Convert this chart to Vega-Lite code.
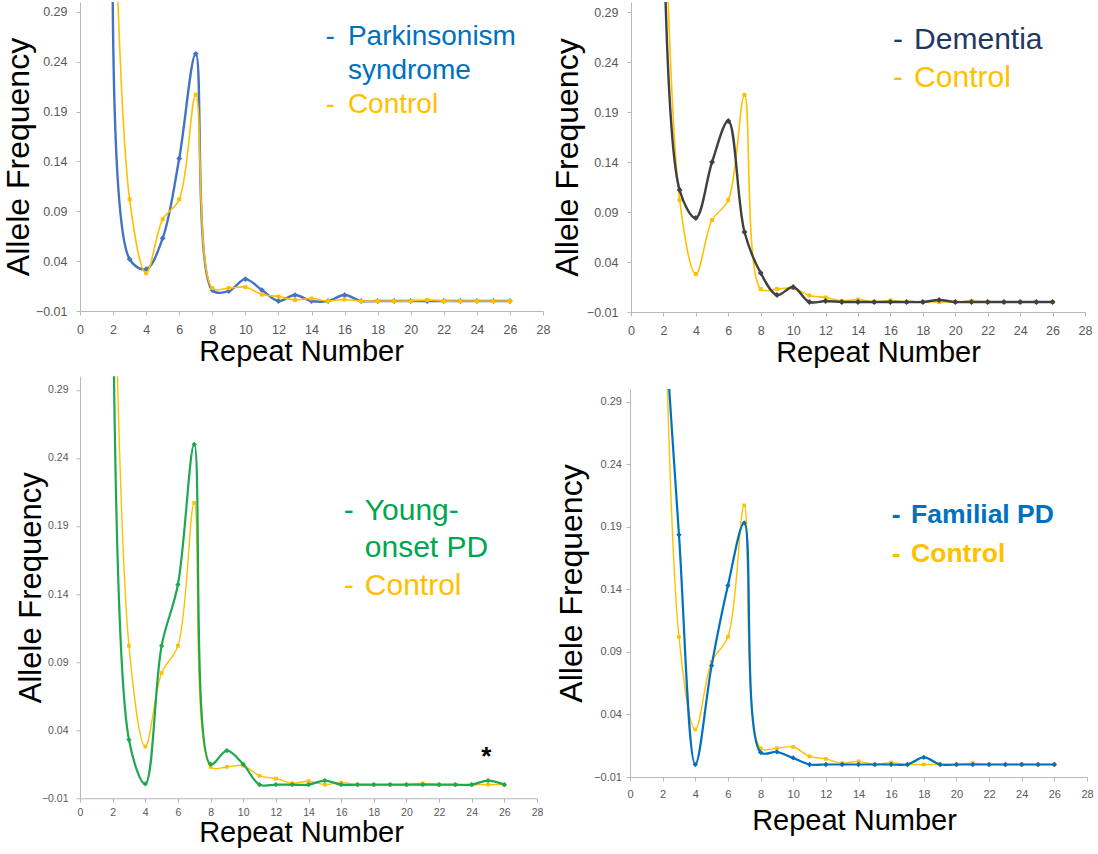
{
  "$schema": "https://vega.github.io/schema/vega-lite/v6.json",
  "background": "white",
  "padding": {"left": 2, "top": 2, "right": 0, "bottom": 0},
  "config": {
    "view": {"stroke": null},
    "axis": {
      "grid": false,
      "domainColor": "#B8B8B8",
      "tickColor": "#B8B8B8",
      "labelColor": "#595959",
      "labelFont": "Liberation Sans",
      "titleFont": "Liberation Sans",
      "titleFontWeight": "normal",
      "titleColor": "#000000",
      "labelFlush": false,
      "labelOverlap": false,
      "tickSize": 4
    },
    "text": {"font": "Liberation Sans"}
  },
  "datasets": {
    "freq": [
      {"series": "Parkinsonism", "repeat": 2, "freq": 0.44},
      {"series": "Parkinsonism", "repeat": 3, "freq": 0.042},
      {"series": "Parkinsonism", "repeat": 4, "freq": 0.032},
      {"series": "Parkinsonism", "repeat": 5, "freq": 0.063},
      {"series": "Parkinsonism", "repeat": 6, "freq": 0.143},
      {"series": "Parkinsonism", "repeat": 7, "freq": 0.248},
      {"series": "Parkinsonism", "repeat": 8, "freq": 0.011},
      {"series": "Parkinsonism", "repeat": 9, "freq": 0.010},
      {"series": "Parkinsonism", "repeat": 10, "freq": 0.022},
      {"series": "Parkinsonism", "repeat": 11, "freq": 0.011},
      {"series": "Parkinsonism", "repeat": 12, "freq": 0},
      {"series": "Parkinsonism", "repeat": 13, "freq": 0.006},
      {"series": "Parkinsonism", "repeat": 14, "freq": 0},
      {"series": "Parkinsonism", "repeat": 15, "freq": 0},
      {"series": "Parkinsonism", "repeat": 16, "freq": 0.006},
      {"series": "Parkinsonism", "repeat": 17, "freq": 0},
      {"series": "Parkinsonism", "repeat": 18, "freq": 0},
      {"series": "Parkinsonism", "repeat": 19, "freq": 0},
      {"series": "Parkinsonism", "repeat": 20, "freq": 0},
      {"series": "Parkinsonism", "repeat": 21, "freq": 0},
      {"series": "Parkinsonism", "repeat": 22, "freq": 0},
      {"series": "Parkinsonism", "repeat": 23, "freq": 0},
      {"series": "Parkinsonism", "repeat": 24, "freq": 0},
      {"series": "Parkinsonism", "repeat": 25, "freq": 0},
      {"series": "Parkinsonism", "repeat": 26, "freq": 0},

      {"series": "Control", "repeat": 2, "freq": 0.46},
      {"series": "Control", "repeat": 3, "freq": 0.102},
      {"series": "Control", "repeat": 4, "freq": 0.028},
      {"series": "Control", "repeat": 5, "freq": 0.082},
      {"series": "Control", "repeat": 6, "freq": 0.102},
      {"series": "Control", "repeat": 7, "freq": 0.207},
      {"series": "Control", "repeat": 8, "freq": 0.013},
      {"series": "Control", "repeat": 9, "freq": 0.013},
      {"series": "Control", "repeat": 10, "freq": 0.014},
      {"series": "Control", "repeat": 11, "freq": 0.0065},
      {"series": "Control", "repeat": 12, "freq": 0.0045},
      {"series": "Control", "repeat": 13, "freq": 0.001},
      {"series": "Control", "repeat": 14, "freq": 0.0025},
      {"series": "Control", "repeat": 15, "freq": 0},
      {"series": "Control", "repeat": 16, "freq": 0.0015},
      {"series": "Control", "repeat": 17, "freq": 0},
      {"series": "Control", "repeat": 18, "freq": 0},
      {"series": "Control", "repeat": 19, "freq": 0},
      {"series": "Control", "repeat": 20, "freq": 0},
      {"series": "Control", "repeat": 21, "freq": 0.001},
      {"series": "Control", "repeat": 22, "freq": 0},
      {"series": "Control", "repeat": 23, "freq": 0},
      {"series": "Control", "repeat": 24, "freq": 0},
      {"series": "Control", "repeat": 25, "freq": 0},
      {"series": "Control", "repeat": 26, "freq": 0},

      {"series": "Dementia", "repeat": 2, "freq": 0.40},
      {"series": "Dementia", "repeat": 3, "freq": 0.112},
      {"series": "Dementia", "repeat": 4, "freq": 0.084},
      {"series": "Dementia", "repeat": 5, "freq": 0.140},
      {"series": "Dementia", "repeat": 6, "freq": 0.181},
      {"series": "Dementia", "repeat": 7, "freq": 0.070},
      {"series": "Dementia", "repeat": 8, "freq": 0.029},
      {"series": "Dementia", "repeat": 9, "freq": 0.007},
      {"series": "Dementia", "repeat": 10, "freq": 0.015},
      {"series": "Dementia", "repeat": 11, "freq": 0},
      {"series": "Dementia", "repeat": 12, "freq": 0.001},
      {"series": "Dementia", "repeat": 13, "freq": 0},
      {"series": "Dementia", "repeat": 14, "freq": 0},
      {"series": "Dementia", "repeat": 15, "freq": 0},
      {"series": "Dementia", "repeat": 16, "freq": 0},
      {"series": "Dementia", "repeat": 17, "freq": 0},
      {"series": "Dementia", "repeat": 18, "freq": 0},
      {"series": "Dementia", "repeat": 19, "freq": 0.002},
      {"series": "Dementia", "repeat": 20, "freq": 0},
      {"series": "Dementia", "repeat": 21, "freq": 0},
      {"series": "Dementia", "repeat": 22, "freq": 0},
      {"series": "Dementia", "repeat": 23, "freq": 0},
      {"series": "Dementia", "repeat": 24, "freq": 0},
      {"series": "Dementia", "repeat": 25, "freq": 0},
      {"series": "Dementia", "repeat": 26, "freq": 0},

      {"series": "YoungOnset", "repeat": 2, "freq": 0.42},
      {"series": "YoungOnset", "repeat": 3, "freq": 0.033},
      {"series": "YoungOnset", "repeat": 4, "freq": 0.0005},
      {"series": "YoungOnset", "repeat": 5, "freq": 0.102},
      {"series": "YoungOnset", "repeat": 6, "freq": 0.147},
      {"series": "YoungOnset", "repeat": 7, "freq": 0.250},
      {"series": "YoungOnset", "repeat": 8, "freq": 0.015},
      {"series": "YoungOnset", "repeat": 9, "freq": 0.025},
      {"series": "YoungOnset", "repeat": 10, "freq": 0.015},
      {"series": "YoungOnset", "repeat": 11, "freq": 0},
      {"series": "YoungOnset", "repeat": 12, "freq": 0},
      {"series": "YoungOnset", "repeat": 13, "freq": 0},
      {"series": "YoungOnset", "repeat": 14, "freq": 0},
      {"series": "YoungOnset", "repeat": 15, "freq": 0.003},
      {"series": "YoungOnset", "repeat": 16, "freq": 0},
      {"series": "YoungOnset", "repeat": 17, "freq": 0},
      {"series": "YoungOnset", "repeat": 18, "freq": 0},
      {"series": "YoungOnset", "repeat": 19, "freq": 0},
      {"series": "YoungOnset", "repeat": 20, "freq": 0},
      {"series": "YoungOnset", "repeat": 21, "freq": 0},
      {"series": "YoungOnset", "repeat": 22, "freq": 0},
      {"series": "YoungOnset", "repeat": 23, "freq": 0},
      {"series": "YoungOnset", "repeat": 24, "freq": 0},
      {"series": "YoungOnset", "repeat": 25, "freq": 0.003},
      {"series": "YoungOnset", "repeat": 26, "freq": 0},

      {"series": "Familial", "repeat": 2, "freq": 0.38},
      {"series": "Familial", "repeat": 3, "freq": 0.1835},
      {"series": "Familial", "repeat": 4, "freq": 0},
      {"series": "Familial", "repeat": 5, "freq": 0.079},
      {"series": "Familial", "repeat": 6, "freq": 0.143},
      {"series": "Familial", "repeat": 7, "freq": 0.193},
      {"series": "Familial", "repeat": 8, "freq": 0.0097},
      {"series": "Familial", "repeat": 9, "freq": 0.010},
      {"series": "Familial", "repeat": 10, "freq": 0.0052},
      {"series": "Familial", "repeat": 11, "freq": 0},
      {"series": "Familial", "repeat": 12, "freq": 0},
      {"series": "Familial", "repeat": 13, "freq": 0},
      {"series": "Familial", "repeat": 14, "freq": 0},
      {"series": "Familial", "repeat": 15, "freq": 0},
      {"series": "Familial", "repeat": 16, "freq": 0},
      {"series": "Familial", "repeat": 17, "freq": 0},
      {"series": "Familial", "repeat": 18, "freq": 0.0057},
      {"series": "Familial", "repeat": 19, "freq": 0},
      {"series": "Familial", "repeat": 20, "freq": 0},
      {"series": "Familial", "repeat": 21, "freq": 0},
      {"series": "Familial", "repeat": 22, "freq": 0},
      {"series": "Familial", "repeat": 23, "freq": 0},
      {"series": "Familial", "repeat": 24, "freq": 0},
      {"series": "Familial", "repeat": 25, "freq": 0},
      {"series": "Familial", "repeat": 26, "freq": 0}
    ]
  },
  "spacing": 8,
  "vconcat": [
    {
      "spacing": 1,
      "hconcat": [
        {
          "width": 463,
          "height": 309,
          "layer": [
            {
              "data": {"name": "freq"},
              "encoding": {
                "x": {"field": "repeat", "type": "quantitative", "scale": {"domain": [0, 28], "nice": false}, "axis": {"title": "Repeat Number", "values": [0,2,4,6,8,10,12,14,16,18,20,22,24,26,28], "format": "d", "labelFontSize": 12.5, "labelPadding": 8, "titleFontSize": 29, "titlePadding": 2, "titleX": 221}},
                "y": {"field": "freq", "type": "quantitative", "scale": {"domain": [-0.01, 0.30], "nice": false, "zero": false}, "axis": {"title": "Allele Frequency", "values": [-0.01, 0.04, 0.09, 0.14, 0.19, 0.24, 0.29], "format": ".2f", "labelFontSize": 12.5, "labelPadding": 9, "titleFontSize": 32, "titlePadding": 0}}
              },
              "layer": [
                {"transform": [{"filter": "datum.series == 'Parkinsonism'"}], "mark": {"type": "line", "interpolate": "catmull-rom", "clip": true, "color": "#4472C4", "strokeWidth": 2.4}},
                {"transform": [{"filter": "datum.series == 'Parkinsonism'"}], "mark": {"type": "point", "shape": "diamond", "filled": true, "opacity": 1, "clip": true, "color": "#4472C4", "size": 34}},
                {"transform": [{"filter": "datum.series == 'Control'"}], "mark": {"type": "line", "interpolate": "catmull-rom", "clip": true, "color": "#FFC000", "strokeWidth": 1.6}},
                {"transform": [{"filter": "datum.series == 'Control'"}], "mark": {"type": "point", "shape": "square", "filled": true, "opacity": 1, "clip": true, "color": "#FFC000", "size": 16}}
              ]
            },
            {
              "data": {"values": [{}]},
              "mark": {"type": "text", "align": "left", "baseline": "middle", "fontSize": 28, "color": "#0070C0"},
              "encoding": {
                "x": {"datum": 14.84, "type": "quantitative", "scale": {"domain": [0, 28], "nice": false}, "axis": {"title": "Repeat Number", "values": [0,2,4,6,8,10,12,14,16,18,20,22,24,26,28], "format": "d", "labelFontSize": 12.5, "labelPadding": 8, "titleFontSize": 29, "titlePadding": 2, "titleX": 221}},
                "y": {"datum": 0.265, "type": "quantitative", "scale": {"domain": [-0.01, 0.30], "nice": false, "zero": false}, "axis": {"title": "Allele Frequency", "values": [-0.01, 0.04, 0.09, 0.14, 0.19, 0.24, 0.29], "format": ".2f", "labelFontSize": 12.5, "labelPadding": 9, "titleFontSize": 32, "titlePadding": 0}},
                "text": {"value": "-"}
              }
            },
            {
              "data": {"values": [{}]},
              "mark": {"type": "text", "align": "left", "baseline": "middle", "fontSize": 28, "color": "#0070C0"},
              "encoding": {
                "x": {"datum": 16.2, "type": "quantitative", "scale": {"domain": [0, 28], "nice": false}, "axis": {"title": "Repeat Number", "values": [0,2,4,6,8,10,12,14,16,18,20,22,24,26,28], "format": "d", "labelFontSize": 12.5, "labelPadding": 8, "titleFontSize": 29, "titlePadding": 2, "titleX": 221}},
                "y": {"datum": 0.265, "type": "quantitative", "scale": {"domain": [-0.01, 0.30], "nice": false, "zero": false}, "axis": {"title": "Allele Frequency", "values": [-0.01, 0.04, 0.09, 0.14, 0.19, 0.24, 0.29], "format": ".2f", "labelFontSize": 12.5, "labelPadding": 9, "titleFontSize": 32, "titlePadding": 0}},
                "text": {"value": "Parkinsonism"}
              }
            },
            {
              "data": {"values": [{}]},
              "mark": {"type": "text", "align": "left", "baseline": "middle", "fontSize": 28, "color": "#0070C0"},
              "encoding": {
                "x": {"datum": 16.2, "type": "quantitative", "scale": {"domain": [0, 28], "nice": false}, "axis": {"title": "Repeat Number", "values": [0,2,4,6,8,10,12,14,16,18,20,22,24,26,28], "format": "d", "labelFontSize": 12.5, "labelPadding": 8, "titleFontSize": 29, "titlePadding": 2, "titleX": 221}},
                "y": {"datum": 0.231, "type": "quantitative", "scale": {"domain": [-0.01, 0.30], "nice": false, "zero": false}, "axis": {"title": "Allele Frequency", "values": [-0.01, 0.04, 0.09, 0.14, 0.19, 0.24, 0.29], "format": ".2f", "labelFontSize": 12.5, "labelPadding": 9, "titleFontSize": 32, "titlePadding": 0}},
                "text": {"value": "syndrome"}
              }
            },
            {
              "data": {"values": [{}]},
              "mark": {"type": "text", "align": "left", "baseline": "middle", "fontSize": 28, "color": "#FFC000"},
              "encoding": {
                "x": {"datum": 14.84, "type": "quantitative", "scale": {"domain": [0, 28], "nice": false}, "axis": {"title": "Repeat Number", "values": [0,2,4,6,8,10,12,14,16,18,20,22,24,26,28], "format": "d", "labelFontSize": 12.5, "labelPadding": 8, "titleFontSize": 29, "titlePadding": 2, "titleX": 221}},
                "y": {"datum": 0.197, "type": "quantitative", "scale": {"domain": [-0.01, 0.30], "nice": false, "zero": false}, "axis": {"title": "Allele Frequency", "values": [-0.01, 0.04, 0.09, 0.14, 0.19, 0.24, 0.29], "format": ".2f", "labelFontSize": 12.5, "labelPadding": 9, "titleFontSize": 32, "titlePadding": 0}},
                "text": {"value": "-"}
              }
            },
            {
              "data": {"values": [{}]},
              "mark": {"type": "text", "align": "left", "baseline": "middle", "fontSize": 28, "color": "#FFC000"},
              "encoding": {
                "x": {"datum": 16.2, "type": "quantitative", "scale": {"domain": [0, 28], "nice": false}, "axis": {"title": "Repeat Number", "values": [0,2,4,6,8,10,12,14,16,18,20,22,24,26,28], "format": "d", "labelFontSize": 12.5, "labelPadding": 8, "titleFontSize": 29, "titlePadding": 2, "titleX": 221}},
                "y": {"datum": 0.197, "type": "quantitative", "scale": {"domain": [-0.01, 0.30], "nice": false, "zero": false}, "axis": {"title": "Allele Frequency", "values": [-0.01, 0.04, 0.09, 0.14, 0.19, 0.24, 0.29], "format": ".2f", "labelFontSize": 12.5, "labelPadding": 9, "titleFontSize": 32, "titlePadding": 0}},
                "text": {"value": "Control"}
              }
            }
          ]
        },
        {
          "width": 454,
          "height": 310,
          "layer": [
            {
              "data": {"name": "freq"},
              "encoding": {
                "x": {"field": "repeat", "type": "quantitative", "scale": {"domain": [0, 28], "nice": false}, "axis": {"title": "Repeat Number", "values": [0,2,4,6,8,10,12,14,16,18,20,22,24,26,28], "format": "d", "labelFontSize": 12.5, "labelPadding": 8, "titleFontSize": 29, "titlePadding": 2, "titleX": 247}},
                "y": {"field": "freq", "type": "quantitative", "scale": {"domain": [-0.01, 0.30], "nice": false, "zero": false}, "axis": {"title": "Allele Frequency", "values": [-0.01, 0.04, 0.09, 0.14, 0.19, 0.24, 0.29], "format": ".2f", "labelFontSize": 12.5, "labelPadding": 9, "titleFontSize": 32, "titlePadding": 2}}
              },
              "layer": [
                {"transform": [{"filter": "datum.series == 'Control'"}], "mark": {"type": "line", "interpolate": "catmull-rom", "clip": true, "color": "#FFC000", "strokeWidth": 1.6}},
                {"transform": [{"filter": "datum.series == 'Control'"}], "mark": {"type": "point", "shape": "square", "filled": true, "opacity": 1, "clip": true, "color": "#FFC000", "size": 16}},
                {"transform": [{"filter": "datum.series == 'Dementia'"}], "mark": {"type": "line", "interpolate": "catmull-rom", "clip": true, "color": "#404040", "strokeWidth": 2.4}},
                {"transform": [{"filter": "datum.series == 'Dementia'"}], "mark": {"type": "point", "shape": "diamond", "filled": true, "opacity": 1, "clip": true, "color": "#404040", "size": 34}}
              ]
            },
            {
              "data": {"values": [{}]},
              "mark": {"type": "text", "align": "left", "baseline": "middle", "fontSize": 30, "color": "#1F3864"},
              "encoding": {
                "x": {"datum": 16.16, "type": "quantitative", "scale": {"domain": [0, 28], "nice": false}, "axis": {"title": "Repeat Number", "values": [0,2,4,6,8,10,12,14,16,18,20,22,24,26,28], "format": "d", "labelFontSize": 12.5, "labelPadding": 8, "titleFontSize": 29, "titlePadding": 2, "titleX": 247}},
                "y": {"datum": 0.262, "type": "quantitative", "scale": {"domain": [-0.01, 0.30], "nice": false, "zero": false}, "axis": {"title": "Allele Frequency", "values": [-0.01, 0.04, 0.09, 0.14, 0.19, 0.24, 0.29], "format": ".2f", "labelFontSize": 12.5, "labelPadding": 9, "titleFontSize": 32, "titlePadding": 2}},
                "text": {"value": "-"}
              }
            },
            {
              "data": {"values": [{}]},
              "mark": {"type": "text", "align": "left", "baseline": "middle", "fontSize": 30, "color": "#1F3864"},
              "encoding": {
                "x": {"datum": 17.46, "type": "quantitative", "scale": {"domain": [0, 28], "nice": false}, "axis": {"title": "Repeat Number", "values": [0,2,4,6,8,10,12,14,16,18,20,22,24,26,28], "format": "d", "labelFontSize": 12.5, "labelPadding": 8, "titleFontSize": 29, "titlePadding": 2, "titleX": 247}},
                "y": {"datum": 0.262, "type": "quantitative", "scale": {"domain": [-0.01, 0.30], "nice": false, "zero": false}, "axis": {"title": "Allele Frequency", "values": [-0.01, 0.04, 0.09, 0.14, 0.19, 0.24, 0.29], "format": ".2f", "labelFontSize": 12.5, "labelPadding": 9, "titleFontSize": 32, "titlePadding": 2}},
                "text": {"value": "Dementia"}
              }
            },
            {
              "data": {"values": [{}]},
              "mark": {"type": "text", "align": "left", "baseline": "middle", "fontSize": 30, "color": "#FFC000"},
              "encoding": {
                "x": {"datum": 16.16, "type": "quantitative", "scale": {"domain": [0, 28], "nice": false}, "axis": {"title": "Repeat Number", "values": [0,2,4,6,8,10,12,14,16,18,20,22,24,26,28], "format": "d", "labelFontSize": 12.5, "labelPadding": 8, "titleFontSize": 29, "titlePadding": 2, "titleX": 247}},
                "y": {"datum": 0.2245, "type": "quantitative", "scale": {"domain": [-0.01, 0.30], "nice": false, "zero": false}, "axis": {"title": "Allele Frequency", "values": [-0.01, 0.04, 0.09, 0.14, 0.19, 0.24, 0.29], "format": ".2f", "labelFontSize": 12.5, "labelPadding": 9, "titleFontSize": 32, "titlePadding": 2}},
                "text": {"value": "-"}
              }
            },
            {
              "data": {"values": [{}]},
              "mark": {"type": "text", "align": "left", "baseline": "middle", "fontSize": 30, "color": "#FFC000"},
              "encoding": {
                "x": {"datum": 17.46, "type": "quantitative", "scale": {"domain": [0, 28], "nice": false}, "axis": {"title": "Repeat Number", "values": [0,2,4,6,8,10,12,14,16,18,20,22,24,26,28], "format": "d", "labelFontSize": 12.5, "labelPadding": 8, "titleFontSize": 29, "titlePadding": 2, "titleX": 247}},
                "y": {"datum": 0.2245, "type": "quantitative", "scale": {"domain": [-0.01, 0.30], "nice": false, "zero": false}, "axis": {"title": "Allele Frequency", "values": [-0.01, 0.04, 0.09, 0.14, 0.19, 0.24, 0.29], "format": ".2f", "labelFontSize": 12.5, "labelPadding": 9, "titleFontSize": 32, "titlePadding": 2}},
                "text": {"value": "Control"}
              }
            }
          ]
        }
      ]
    },
    {
      "spacing": 12,
      "center": true,
      "hconcat": [
        {
          "width": 457,
          "height": 422,
          "layer": [
            {
              "data": {"name": "freq"},
              "encoding": {
                "x": {"field": "repeat", "type": "quantitative", "scale": {"domain": [0, 28], "nice": false}, "axis": {"title": "Repeat Number", "values": [0,2,4,6,8,10,12,14,16,18,20,22,24,26,28], "format": "d", "labelFontSize": 10.5, "labelPadding": 5, "titleFontSize": 29, "titlePadding": 1, "titleX": 221}},
                "y": {"field": "freq", "type": "quantitative", "scale": {"domain": [-0.01, 0.30], "nice": false, "zero": false}, "axis": {"title": "Allele Frequency", "values": [-0.01, 0.04, 0.09, 0.14, 0.19, 0.24, 0.29], "format": ".2f", "labelFontSize": 10.5, "labelPadding": 8, "titleFontSize": 31, "titlePadding": -6}}
              },
              "layer": [
                {"transform": [{"filter": "datum.series == 'Control'"}], "mark": {"type": "line", "interpolate": "catmull-rom", "clip": true, "color": "#FFC000", "strokeWidth": 1.4}},
                {"transform": [{"filter": "datum.series == 'Control'"}], "mark": {"type": "point", "shape": "square", "filled": true, "opacity": 1, "clip": true, "color": "#FFC000", "size": 14}},
                {"transform": [{"filter": "datum.series == 'YoungOnset'"}], "mark": {"type": "line", "interpolate": "catmull-rom", "clip": true, "color": "#1DA851", "strokeWidth": 2.2}},
                {"transform": [{"filter": "datum.series == 'YoungOnset'"}], "mark": {"type": "point", "shape": "diamond", "filled": true, "opacity": 1, "clip": true, "color": "#1DA851", "size": 28}}
              ]
            },
            {
              "data": {"values": [{}]},
              "mark": {"type": "text", "align": "left", "baseline": "middle", "fontSize": 30, "color": "#00A650"},
              "encoding": {
                "x": {"datum": 16.16, "type": "quantitative", "scale": {"domain": [0, 28], "nice": false}, "axis": {"title": "Repeat Number", "values": [0,2,4,6,8,10,12,14,16,18,20,22,24,26,28], "format": "d", "labelFontSize": 10.5, "labelPadding": 5, "titleFontSize": 29, "titlePadding": 1, "titleX": 221}},
                "y": {"datum": 0.201, "type": "quantitative", "scale": {"domain": [-0.01, 0.30], "nice": false, "zero": false}, "axis": {"title": "Allele Frequency", "values": [-0.01, 0.04, 0.09, 0.14, 0.19, 0.24, 0.29], "format": ".2f", "labelFontSize": 10.5, "labelPadding": 8, "titleFontSize": 31, "titlePadding": -6}},
                "text": {"value": "-"}
              }
            },
            {
              "data": {"values": [{}]},
              "mark": {"type": "text", "align": "left", "baseline": "middle", "fontSize": 30, "color": "#00A650"},
              "encoding": {
                "x": {"datum": 17.45, "type": "quantitative", "scale": {"domain": [0, 28], "nice": false}, "axis": {"title": "Repeat Number", "values": [0,2,4,6,8,10,12,14,16,18,20,22,24,26,28], "format": "d", "labelFontSize": 10.5, "labelPadding": 5, "titleFontSize": 29, "titlePadding": 1, "titleX": 221}},
                "y": {"datum": 0.201, "type": "quantitative", "scale": {"domain": [-0.01, 0.30], "nice": false, "zero": false}, "axis": {"title": "Allele Frequency", "values": [-0.01, 0.04, 0.09, 0.14, 0.19, 0.24, 0.29], "format": ".2f", "labelFontSize": 10.5, "labelPadding": 8, "titleFontSize": 31, "titlePadding": -6}},
                "text": {"value": "Young-"}
              }
            },
            {
              "data": {"values": [{}]},
              "mark": {"type": "text", "align": "left", "baseline": "middle", "fontSize": 30, "color": "#00A650"},
              "encoding": {
                "x": {"datum": 17.45, "type": "quantitative", "scale": {"domain": [0, 28], "nice": false}, "axis": {"title": "Repeat Number", "values": [0,2,4,6,8,10,12,14,16,18,20,22,24,26,28], "format": "d", "labelFontSize": 10.5, "labelPadding": 5, "titleFontSize": 29, "titlePadding": 1, "titleX": 221}},
                "y": {"datum": 0.174, "type": "quantitative", "scale": {"domain": [-0.01, 0.30], "nice": false, "zero": false}, "axis": {"title": "Allele Frequency", "values": [-0.01, 0.04, 0.09, 0.14, 0.19, 0.24, 0.29], "format": ".2f", "labelFontSize": 10.5, "labelPadding": 8, "titleFontSize": 31, "titlePadding": -6}},
                "text": {"value": "onset PD"}
              }
            },
            {
              "data": {"values": [{}]},
              "mark": {"type": "text", "align": "left", "baseline": "middle", "fontSize": 30, "color": "#FFC000"},
              "encoding": {
                "x": {"datum": 16.16, "type": "quantitative", "scale": {"domain": [0, 28], "nice": false}, "axis": {"title": "Repeat Number", "values": [0,2,4,6,8,10,12,14,16,18,20,22,24,26,28], "format": "d", "labelFontSize": 10.5, "labelPadding": 5, "titleFontSize": 29, "titlePadding": 1, "titleX": 221}},
                "y": {"datum": 0.146, "type": "quantitative", "scale": {"domain": [-0.01, 0.30], "nice": false, "zero": false}, "axis": {"title": "Allele Frequency", "values": [-0.01, 0.04, 0.09, 0.14, 0.19, 0.24, 0.29], "format": ".2f", "labelFontSize": 10.5, "labelPadding": 8, "titleFontSize": 31, "titlePadding": -6}},
                "text": {"value": "-"}
              }
            },
            {
              "data": {"values": [{}]},
              "mark": {"type": "text", "align": "left", "baseline": "middle", "fontSize": 30, "color": "#FFC000"},
              "encoding": {
                "x": {"datum": 17.45, "type": "quantitative", "scale": {"domain": [0, 28], "nice": false}, "axis": {"title": "Repeat Number", "values": [0,2,4,6,8,10,12,14,16,18,20,22,24,26,28], "format": "d", "labelFontSize": 10.5, "labelPadding": 5, "titleFontSize": 29, "titlePadding": 1, "titleX": 221}},
                "y": {"datum": 0.146, "type": "quantitative", "scale": {"domain": [-0.01, 0.30], "nice": false, "zero": false}, "axis": {"title": "Allele Frequency", "values": [-0.01, 0.04, 0.09, 0.14, 0.19, 0.24, 0.29], "format": ".2f", "labelFontSize": 10.5, "labelPadding": 8, "titleFontSize": 31, "titlePadding": -6}},
                "text": {"value": "Control"}
              }
            },
            {
              "data": {"values": [{}]},
              "mark": {"type": "text", "align": "center", "baseline": "middle", "fontSize": 26, "fontWeight": "bold", "color": "#000000", "dy": 4},
              "encoding": {
                "x": {"datum": 24.9, "type": "quantitative", "scale": {"domain": [0, 28], "nice": false}, "axis": {"title": "Repeat Number", "values": [0,2,4,6,8,10,12,14,16,18,20,22,24,26,28], "format": "d", "labelFontSize": 10.5, "labelPadding": 5, "titleFontSize": 29, "titlePadding": 1, "titleX": 221}},
                "y": {"datum": 0.0233, "type": "quantitative", "scale": {"domain": [-0.01, 0.30], "nice": false, "zero": false}, "axis": {"title": "Allele Frequency", "values": [-0.01, 0.04, 0.09, 0.14, 0.19, 0.24, 0.29], "format": ".2f", "labelFontSize": 10.5, "labelPadding": 8, "titleFontSize": 31, "titlePadding": -6}},
                "text": {"value": "*"}
              }
            }
          ]
        },
        {
          "width": 457,
          "height": 388,
          "layer": [
            {
              "data": {"name": "freq"},
              "encoding": {
                "x": {"field": "repeat", "type": "quantitative", "scale": {"domain": [0, 28], "nice": false}, "axis": {"title": "Repeat Number", "values": [0,2,4,6,8,10,12,14,16,18,20,22,24,26,28], "format": "d", "labelFontSize": 11, "labelPadding": 7, "titleFontSize": 29, "titlePadding": 7, "titleX": 224}},
                "y": {"field": "freq", "type": "quantitative", "scale": {"domain": [-0.01, 0.30], "nice": false, "zero": false}, "axis": {"title": "Allele Frequency", "values": [-0.01, 0.04, 0.09, 0.14, 0.19, 0.24, 0.29], "format": ".2f", "labelFontSize": 11, "labelPadding": 4.5, "titleFontSize": 32, "titlePadding": 5}}
              },
              "layer": [
                {"transform": [{"filter": "datum.series == 'Control'"}], "mark": {"type": "line", "interpolate": "catmull-rom", "clip": true, "color": "#FFC000", "strokeWidth": 1.4}},
                {"transform": [{"filter": "datum.series == 'Control'"}], "mark": {"type": "point", "shape": "square", "filled": true, "opacity": 1, "clip": true, "color": "#FFC000", "size": 14}},
                {"transform": [{"filter": "datum.series == 'Familial'"}], "mark": {"type": "line", "interpolate": "catmull-rom", "clip": true, "color": "#0070C0", "strokeWidth": 2.2}},
                {"transform": [{"filter": "datum.series == 'Familial'"}], "mark": {"type": "point", "shape": "diamond", "filled": true, "opacity": 1, "clip": true, "color": "#0070C0", "size": 28}}
              ]
            },
            {
              "data": {"values": [{}]},
              "mark": {"type": "text", "align": "left", "baseline": "middle", "fontSize": 26.5, "fontWeight": "bold", "color": "#0070C0"},
              "encoding": {
                "x": {"datum": 16.04, "type": "quantitative", "scale": {"domain": [0, 28], "nice": false}, "axis": {"title": "Repeat Number", "values": [0,2,4,6,8,10,12,14,16,18,20,22,24,26,28], "format": "d", "labelFontSize": 11, "labelPadding": 7, "titleFontSize": 29, "titlePadding": 7, "titleX": 224}},
                "y": {"datum": 0.199, "type": "quantitative", "scale": {"domain": [-0.01, 0.30], "nice": false, "zero": false}, "axis": {"title": "Allele Frequency", "values": [-0.01, 0.04, 0.09, 0.14, 0.19, 0.24, 0.29], "format": ".2f", "labelFontSize": 11, "labelPadding": 4.5, "titleFontSize": 32, "titlePadding": 5}},
                "text": {"value": "-"}
              }
            },
            {
              "data": {"values": [{}]},
              "mark": {"type": "text", "align": "left", "baseline": "middle", "fontSize": 26.5, "fontWeight": "bold", "color": "#0070C0"},
              "encoding": {
                "x": {"datum": 17.22, "type": "quantitative", "scale": {"domain": [0, 28], "nice": false}, "axis": {"title": "Repeat Number", "values": [0,2,4,6,8,10,12,14,16,18,20,22,24,26,28], "format": "d", "labelFontSize": 11, "labelPadding": 7, "titleFontSize": 29, "titlePadding": 7, "titleX": 224}},
                "y": {"datum": 0.199, "type": "quantitative", "scale": {"domain": [-0.01, 0.30], "nice": false, "zero": false}, "axis": {"title": "Allele Frequency", "values": [-0.01, 0.04, 0.09, 0.14, 0.19, 0.24, 0.29], "format": ".2f", "labelFontSize": 11, "labelPadding": 4.5, "titleFontSize": 32, "titlePadding": 5}},
                "text": {"value": "Familial PD"}
              }
            },
            {
              "data": {"values": [{}]},
              "mark": {"type": "text", "align": "left", "baseline": "middle", "fontSize": 26.5, "fontWeight": "bold", "color": "#FFC000"},
              "encoding": {
                "x": {"datum": 16.04, "type": "quantitative", "scale": {"domain": [0, 28], "nice": false}, "axis": {"title": "Repeat Number", "values": [0,2,4,6,8,10,12,14,16,18,20,22,24,26,28], "format": "d", "labelFontSize": 11, "labelPadding": 7, "titleFontSize": 29, "titlePadding": 7, "titleX": 224}},
                "y": {"datum": 0.168, "type": "quantitative", "scale": {"domain": [-0.01, 0.30], "nice": false, "zero": false}, "axis": {"title": "Allele Frequency", "values": [-0.01, 0.04, 0.09, 0.14, 0.19, 0.24, 0.29], "format": ".2f", "labelFontSize": 11, "labelPadding": 4.5, "titleFontSize": 32, "titlePadding": 5}},
                "text": {"value": "-"}
              }
            },
            {
              "data": {"values": [{}]},
              "mark": {"type": "text", "align": "left", "baseline": "middle", "fontSize": 26.5, "fontWeight": "bold", "color": "#FFC000"},
              "encoding": {
                "x": {"datum": 17.22, "type": "quantitative", "scale": {"domain": [0, 28], "nice": false}, "axis": {"title": "Repeat Number", "values": [0,2,4,6,8,10,12,14,16,18,20,22,24,26,28], "format": "d", "labelFontSize": 11, "labelPadding": 7, "titleFontSize": 29, "titlePadding": 7, "titleX": 224}},
                "y": {"datum": 0.168, "type": "quantitative", "scale": {"domain": [-0.01, 0.30], "nice": false, "zero": false}, "axis": {"title": "Allele Frequency", "values": [-0.01, 0.04, 0.09, 0.14, 0.19, 0.24, 0.29], "format": ".2f", "labelFontSize": 11, "labelPadding": 4.5, "titleFontSize": 32, "titlePadding": 5}},
                "text": {"value": "Control"}
              }
            }
          ]
        }
      ]
    }
  ]
}
